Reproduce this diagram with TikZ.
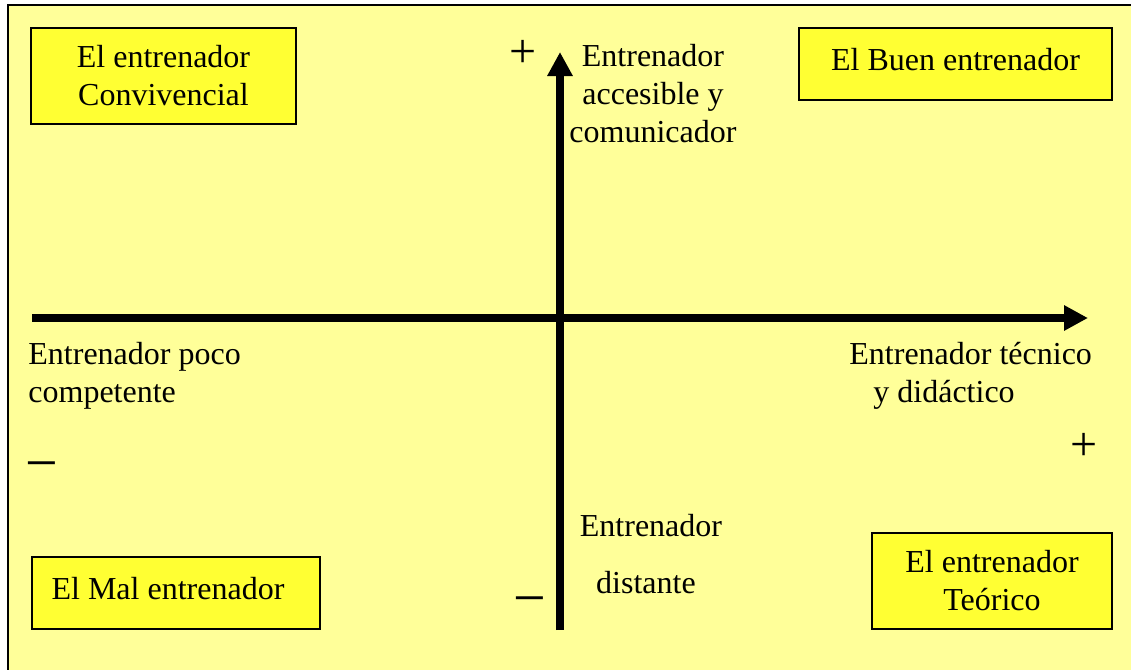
\documentclass[tikz,border=0pt]{standalone}
\usepackage{fontspec}
\setmainfont{Liberation Serif}
\usetikzlibrary{arrows.meta}

\definecolor{paper}{HTML}{FFFF99}
\definecolor{boxfill}{HTML}{FFFF33}

\tikzset{
  quadbox/.style={draw=black, line width=1pt, fill=boxfill, align=center,
    inner sep=0pt},
  axislabel/.style={inner sep=0pt},
  sign/.style={inner sep=0pt, font=\fontsize{24}{24}\selectfont},
  minussign/.style={inner sep=0pt, anchor=base, font=\fontsize{29}{29}\selectfont},
  axis/.style={line width=4pt, -{Triangle[length=12pt,width=12pt]}}
}

\begin{document}
\begin{tikzpicture}[x=0.5pt, y=-0.5pt, font=\fontsize{16}{19}\selectfont]
  \useasboundingbox (0,0) rectangle (1131,670);
  % background sheet
  \fill[white] (0,0) rectangle (1131,670);
  \draw[line width=1pt, fill=paper] (8,5) rectangle (1145,685);

  % axes
  \coordinate (xleft) at (32,318);
  \coordinate (xright) at (1088,318);
  \coordinate (ybottom) at (560,630);
  \coordinate (ytop) at (560,52);
  \draw[axis] (xleft) -- (xright);
  \draw[axis] (ybottom) -- (ytop);

  % quadrant boxes
  \node (conviv) [quadbox, minimum width=132.5pt, minimum height=48pt] at (163.5,76)
    {El entrenador\\Convivencial};
  \node (bueno) [quadbox, minimum width=156.5pt, minimum height=36pt, text depth=5pt] at (955.5,64)
    {El Buen entrenador};
  \node (malo) [quadbox, minimum width=144pt, minimum height=36pt, text depth=5pt] at (176,593)
    {El Mal entrenador\hspace*{8pt}};
  \node (teorico) [quadbox, minimum width=120pt, minimum height=48pt] at (992,581)
    {El entrenador\\Teórico};

  % axis labels
  \node (accesible) [axislabel, anchor=north, align=center] at (653,44)
    {Entrenador\\accesible y\\comunicador};
  \node (poco) [axislabel, anchor=north west, align=left] at (28,342)
    {Entrenador poco\\competente};
  \node (tecnico) [axislabel, anchor=north west, align=left] at (849,342)
    {Entrenador técnico\\\hspace*{12pt}y didáctico};
  \node (distante) [axislabel, anchor=north, align=center] at (651,514)
    {Entrenador\\[9.5pt]\hspace*{-5pt}distante};

  % signs
  \node (plustop) [sign] at (523,54) {+};
  \node (plusright) [sign] at (1084,447) {+};
  \node (minusleft) [minussign] at (42,482) {−};
  \node (minusbottom) [minussign] at (530,617) {−};
\end{tikzpicture}
\end{document}
